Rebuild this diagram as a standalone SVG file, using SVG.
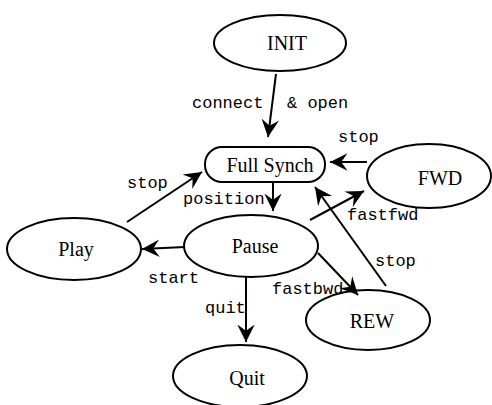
<svg xmlns="http://www.w3.org/2000/svg" width="492" height="405" viewBox="0 0 492 405">
<style>
.n{fill:none;stroke:#000;stroke-width:2}
.t{font-family:"Liberation Serif",serif;font-size:20px;text-anchor:middle;fill:#000}
.l{font-family:"Liberation Mono",monospace;font-size:17px;fill:#000}
.e{fill:none;stroke:#000;stroke-width:2;marker-end:url(#a)}
</style>
<defs>
<marker id="a" markerUnits="userSpaceOnUse" markerWidth="20" markerHeight="20" viewBox="-14 -8 16 16" refX="0" refY="0" orient="auto">
<path d="M0,0 L-14,-7 L-9,0 L-14,7 z" fill="#000"/>
</marker>
</defs>
<rect width="492" height="405" fill="#fff"/>
<g id="INIT"><ellipse class="n" cx="280" cy="43" rx="66" ry="28"/><text class="t" x="287" y="50">INIT</text></g>
<g id="FullSynch"><rect class="n" x="205" y="147" width="120" height="35" rx="17"/><text class="t" x="270" y="172">Full Synch</text></g>
<g id="Play"><ellipse class="n" cx="74" cy="249" rx="67" ry="31"/><text class="t" x="76" y="256">Play</text></g>
<g id="Pause"><ellipse class="n" cx="251" cy="246" rx="67" ry="31"/><text class="t" x="255" y="253">Pause</text></g>
<g id="FWD"><ellipse class="n" cx="429" cy="176" rx="62" ry="32"/><text class="t" x="440" y="185">FWD</text></g>
<g id="REW"><ellipse class="n" cx="368" cy="320" rx="62" ry="30"/><text class="t" x="372" y="328">REW</text></g>
<g id="Quit"><ellipse class="n" cx="240" cy="376" rx="67" ry="31"/><text class="t" x="247" y="385">Quit</text></g>
<g id="connectors">
<line class="e" x1="276" y1="74" x2="268" y2="137"/>
<line class="e" x1="127" y1="222" x2="202" y2="172"/>
<line class="e" x1="273" y1="183" x2="273" y2="211"/>
<line class="e" x1="185" y1="247" x2="142" y2="249"/>
<line class="e" x1="310" y1="220" x2="364" y2="191"/>
<line class="e" x1="367" y1="162" x2="330" y2="162"/>
<line class="e" x1="386" y1="286" x2="315" y2="187"/>
<line class="e" x1="318" y1="253" x2="358" y2="295"/>
<line class="e" x1="246" y1="277" x2="246" y2="342"/>
</g>
<g id="labels">
<text class="l" x="192" y="108">connect</text>
<text class="l" x="287" y="108">&amp; open</text>
<text class="l" x="127" y="188">stop</text>
<text class="l" x="183" y="204">position</text>
<text class="l" x="148" y="283">start</text>
<text class="l" x="338" y="142">stop</text>
<text class="l" x="347" y="220">fastfwd</text>
<text class="l" x="375" y="266">stop</text>
<text class="l" x="272" y="294">fastbwd</text>
<text class="l" x="205" y="313">quit</text>
</g>
</svg>
